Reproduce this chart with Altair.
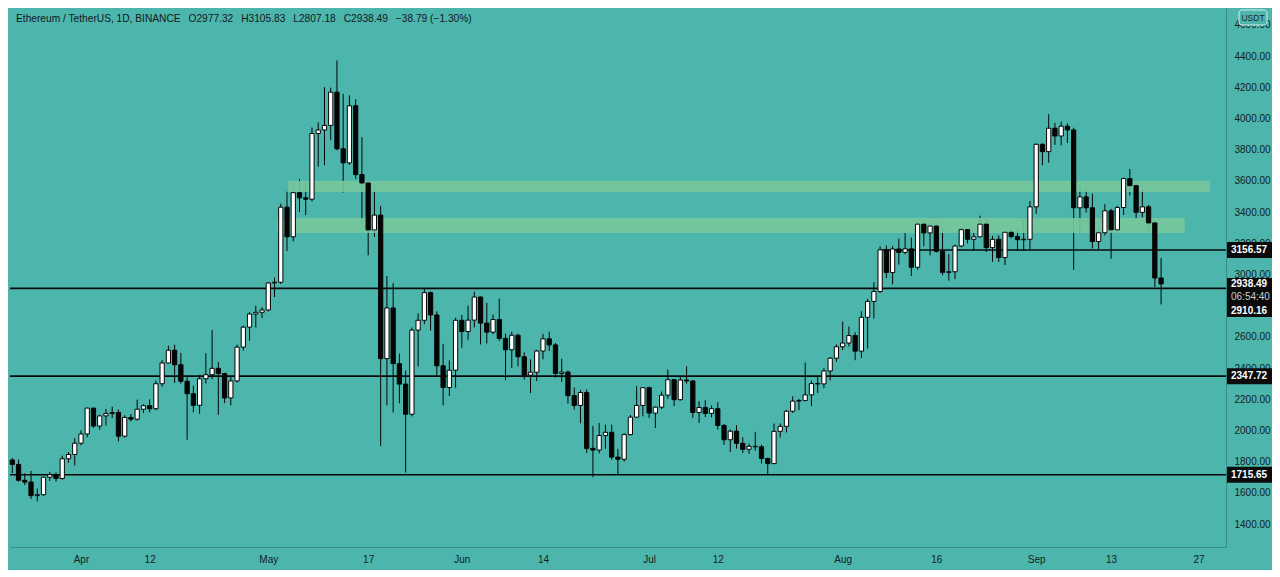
import altair as alt
import pandas as pd

# ---------------- data (ETH/USDT daily, Binance) ----------------
dates = pd.date_range("2021-03-21", "2021-09-21", freq="D")

opens = [
    1810, 1782, 1680, 1669, 1582, 1588, 1700, 1716, 1692, 1818, 1846,
    1918, 1977, 2143, 2028, 2093, 2108, 2115, 1963, 2083, 2072, 2136, 2158, 2139, 2299, 2432,
    2514, 2421, 2315, 2235, 2161, 2331, 2357, 2398, 2364, 2208, 2317, 2534, 2662, 2746, 2757,
    2772, 2945, 2950, 3431, 3241, 3524, 3491, 3482, 3903, 3926, 3955, 4168, 3805, 3715, 4081,
    3640, 3586, 3285, 3380, 2460, 2785, 2428, 2297, 2104, 2643, 2706, 2883, 2740, 2414, 2275, 2386,
    2706, 2634, 2707, 2855, 2688, 2630, 2711, 2590, 2517, 2610, 2472, 2354, 2373, 2509, 2587,
    2548, 2365, 2374, 2223, 2160, 2243, 1885, 1874, 1967, 1988, 1829, 1815, 1973, 2085, 2160,
    2274, 2111, 2149, 2226, 2325, 2197, 2323, 2317, 2115, 2147, 2109, 2139, 2032, 1940, 1995,
    1917, 1879, 1898, 1895, 1820, 1787, 1994, 2026, 2123, 2188, 2192, 2228, 2300, 2298, 2381, 2463,
    2536, 2560, 2608, 2508, 2725, 2827, 2890, 3158, 3012, 3163, 3141, 3164, 3046, 3322, 3266,
    3310, 3148, 3013, 3017, 3182, 3287, 3225, 3241, 3322, 3172, 3225, 3108, 3270, 3243, 3222, 3225,
    3433, 3834, 3787, 3937, 3887, 3950, 3926, 3427, 3497, 3427, 3211, 3267, 3408, 3286, 3429,
    3614, 3569, 3398, 3433, 3330, 2977.32,
]
highs = [
    1823, 1813, 1725, 1740, 1628, 1702, 1734, 1731, 1838, 1861, 1950,
    2000, 2146, 2145, 2100, 2138, 2152, 2134, 2097, 2105, 2197, 2168, 2199, 2320, 2450, 2543,
    2549, 2497, 2342, 2287, 2355, 2495, 2644, 2439, 2369, 2350, 2550, 2672, 2758, 2799, 2790,
    2950, 2980, 3453, 3530, 3540, 3611, 3587, 3942, 3976, 4200, 4197, 4372, 4157, 4148, 4123,
    3880, 3594, 3563, 3438, 2990, 2945, 2492, 2383, 2660, 2750, 2913, 2890, 2763, 2555, 2449, 2722,
    2740, 2800, 2890, 2858, 2817, 2743, 2845, 2620, 2632, 2620, 2500, 2455, 2517, 2619, 2633,
    2560, 2459, 2384, 2276, 2259, 2262, 2029, 2047, 2036, 2037, 1882, 1981, 2099, 2283, 2276,
    2280, 2153, 2249, 2390, 2326, 2347, 2410, 2320, 2187, 2194, 2160, 2181, 2040, 2005, 2033,
    1956, 1915, 1991, 1908, 1825, 2044, 2045, 2130, 2219, 2201, 2435, 2319, 2344, 2399, 2469, 2551,
    2698, 2666, 2629, 2764, 2843, 2950, 3180, 3185, 3183, 3230, 3270, 3236, 3330, 3330, 3330,
    3332, 3292, 3130, 3190, 3300, 3291, 3270, 3376, 3360, 3247, 3250, 3280, 3290, 3290, 3350, 3470,
    3840, 3840, 4027, 3971, 3979, 3969, 3940, 3560, 3560, 3518, 3290, 3450, 3420, 3440, 3620,
    3676, 3584, 3544, 3445, 3340, 3105.83,
]
lows = [
    1726, 1672, 1650, 1560, 1546, 1581, 1676, 1672, 1684, 1793, 1775,
    1904, 1955, 2016, 2005, 2031, 2080, 1930, 1954, 2057, 2062, 2112, 2116, 2130, 2280, 2430,
    2305, 2300, 1940, 2116, 2106, 2300, 2328, 2100, 2175, 2160, 2306, 2512, 2575, 2660, 2720,
    2763, 2855, 2939, 3150, 3212, 3400, 3380, 3468, 3690, 3700, 3860, 3796, 3525, 3702, 3612,
    3322, 3122, 3240, 1900, 2160, 2115, 2174, 1730, 2090, 2410, 2681, 2640, 2345, 2160, 2220, 2273,
    2530, 2581, 2660, 2551, 2557, 2616, 2575, 2322, 2400, 2410, 2326, 2240, 2316, 2456, 2510,
    2338, 2311, 2172, 2133, 2046, 1856, 1700, 1853, 1883, 1812, 1719, 1800, 1968, 2083, 2090,
    2080, 2015, 2136, 2203, 2156, 2191, 2300, 2080, 2048, 2086, 2083, 2006, 1908, 1862, 1883,
    1855, 1850, 1870, 1788, 1718, 1786, 1954, 1987, 2112, 2130, 2187, 2156, 2240, 2271, 2320, 2440,
    2515, 2538, 2450, 2465, 2525, 2717, 2880, 2977, 2936, 3063, 3129, 2990, 3030, 3180, 3122,
    3140, 2995, 2960, 2970, 3174, 3199, 3150, 3237, 3144, 3081, 3080, 3060, 3230, 3150, 3150, 3160,
    3388, 3700, 3717, 3830, 3827, 3842, 3030, 3267, 3397, 3166, 3160, 3250, 3100, 3265, 3381,
    3506, 3353, 3365, 3280, 2920, 2807.18,
]
closes = [
    1782, 1680, 1669, 1582, 1588, 1700, 1716, 1692, 1818, 1846, 1918,
    1977, 2143, 2028, 2093, 2108, 2115, 1963, 2083, 2072, 2136, 2158, 2139, 2299, 2432, 2514,
    2421, 2315, 2235, 2161, 2331, 2357, 2398, 2364, 2208, 2317, 2534, 2662, 2746, 2757, 2772,
    2945, 2950, 3431, 3241, 3524, 3491, 3482, 3903, 3926, 3955, 4168, 3805, 3715, 4081, 3640,
    3586, 3285, 3380, 2460, 2785, 2428, 2297, 2104, 2643, 2706, 2883, 2740, 2414, 2275, 2386, 2706,
    2634, 2707, 2855, 2688, 2630, 2711, 2590, 2517, 2610, 2472, 2354, 2373, 2509, 2587, 2548,
    2365, 2374, 2223, 2160, 2243, 1885, 1874, 1967, 1988, 1829, 1815, 1973, 2085, 2160, 2274,
    2111, 2149, 2226, 2325, 2197, 2323, 2317, 2115, 2147, 2109, 2139, 2032, 1940, 1995, 1917,
    1879, 1898, 1895, 1820, 1787, 1994, 2026, 2123, 2188, 2192, 2228, 2300, 2298, 2381, 2463, 2536,
    2560, 2608, 2508, 2725, 2827, 2890, 3158, 3012, 3163, 3141, 3164, 3046, 3322, 3266, 3310,
    3148, 3013, 3017, 3182, 3287, 3225, 3241, 3322, 3172, 3225, 3108, 3270, 3243, 3222, 3225, 3433,
    3834, 3787, 3937, 3887, 3950, 3926, 3427, 3497, 3427, 3211, 3267, 3408, 3286, 3429, 3614,
    3569, 3398, 3433, 3330, 2977.28, 2938.49,
]

# axis tick labels (TradingView style)
tick_dates = ["2021-04-01", "2021-04-12", "2021-05-01", "2021-05-17", "2021-06-01", "2021-06-14",
              "2021-07-01", "2021-07-12", "2021-08-01", "2021-08-16", "2021-09-01", "2021-09-13",
              "2021-09-27"]
tick_labels = ["Apr", "12", "May", "17", "Jun", "14", "Jul", "12", "Aug", "16", "Sep", "13", "27"]
price_ticks = list(range(1400, 4800, 200))

# horizontal support / resistance levels
level_prices = [3156.57, 2910.16, 2347.72, 1715.65]
level_from = ["2021-08-07", None, None, None]

# supply zones (price bands)
zone_low = [3529, 3265]
zone_high = [3600, 3362]
zone_from_day = [44.2, 42.4]
zone_to_day = [191.8, 187.8]

# right-edge price tags
tag_prices = [3156.57, 2938.49, 2347.72, 1715.65]
tag_texts = ["3156.57", "2938.49", "2347.72", "1715.65"]
tag_up_px = [8, 6, 8, 8]
tag_down_px = [8, 33, 8, 8]
timer_text = "06:54:40"
second_tag_text = "2910.16"

symbol = "Ethereum / TetherUS, 1D, BINANCE"

# ---------------- layout ----------------
BG = "#4cb6ac"
TXT = "#14201f"
PLOT_W, PLOT_H = 1216, 539
Y_MIN, Y_MAX = 1252.6, 4707.7
X_MIN, X_MAX = -0.37, 194.4
PPU = PLOT_H / (Y_MAX - Y_MIN)

start = dates[0]
df = pd.DataFrame({"date": dates, "open": opens, "high": highs, "low": lows, "close": closes})
df["day"] = (df["date"] - start).dt.days

tick_days = [int((pd.Timestamp(d) - start).days) for d in tick_dates]
label_expr = ""
for d, t in zip(tick_days, tick_labels):
    label_expr += f"datum.value == {d} ? '{t}' : "
label_expr += "''"

xs = alt.Scale(domain=[X_MIN, X_MAX], nice=False, zero=False)
ys = alt.Scale(domain=[Y_MIN, Y_MAX], nice=False, zero=False)

x_axis = alt.Axis(values=tick_days, labelExpr=label_expr, title=None, grid=False, ticks=False,
                  domainColor="#3b8a83", labelPadding=7, labelFontSize=10, labelColor=TXT,
                  labelFont="Liberation Sans", labelFlush=False, labelOverlap=False)
y_axis = alt.Axis(values=price_ticks, format=".2f", orient="right", title=None, grid=False,
                  ticks=False, domainColor="#3b8a83", labelPadding=8, labelFontSize=10,
                  labelColor=TXT, labelFont="Liberation Sans", labelFlush=False,
                  labelOverlap=False, labelSeparation=0)


def X(field):
    return alt.X(field, scale=xs, axis=x_axis)


def Y(field):
    return alt.Y(field, scale=ys, axis=y_axis)


base = alt.Chart(df)

wicks = base.mark_rule(color="#050505", strokeWidth=1).encode(
    x=X("day:Q"),
    y=Y("low:Q"),
    y2="high:Q",
)

bodies = base.transform_calculate(
    x0="datum.day - 0.34", x1="datum.day + 0.34"
).mark_rect(stroke="#050505", strokeWidth=1).encode(
    x=X("x0:Q"),
    x2="x1:Q",
    y=Y("open:Q"),
    y2="close:Q",
    fill=alt.condition("datum.close >= datum.open", alt.value("#ffffff"), alt.value("#050505")),
)

zones_df = pd.DataFrame({"x0": zone_from_day, "x1": zone_to_day, "p0": zone_low, "p1": zone_high})
zones = alt.Chart(zones_df).mark_rect(fill="#78c79c", opacity=0.9).encode(
    x=X("x0:Q"), x2="x1:Q",
    y=Y("p0:Q"), y2="p1:Q",
)

lv_start = [float((pd.Timestamp(d) - start).days) if d else X_MIN for d in level_from]
levels_df = pd.DataFrame({"price": level_prices, "x0": lv_start, "x1": [X_MAX] * len(level_prices)})
levels = alt.Chart(levels_df).mark_rule(color="#0a0a0a", strokeWidth=1.6).encode(
    x=X("x0:Q"), x2="x1:Q",
    y=Y("price:Q"),
)

tags_df = pd.DataFrame({"price": tag_prices, "text": tag_texts, "up": tag_up_px, "down": tag_down_px})
tag_boxes = alt.Chart(tags_df).transform_calculate(
    top=f"datum.price + datum.up / {PPU}", bot=f"datum.price - datum.down / {PPU}"
).mark_rect(fill="#0b0b0b", clip=False).encode(
    x=alt.value(PLOT_W + 1), x2=alt.value(PLOT_W + 46),
    y=Y("top:Q"), y2="bot:Q",
)
tag_text = alt.Chart(tags_df).mark_text(
    color="#ffffff", fontWeight="bold", fontSize=10, font="Liberation Sans",
    align="left", baseline="middle", clip=False,
).encode(x=alt.value(PLOT_W + 5), y=Y("price:Q"), text="text:N")

extra_df = pd.DataFrame({"price": [tag_prices[1]], "timer": [timer_text], "second": [second_tag_text]})
timer = alt.Chart(extra_df).mark_text(
    color="#c9cfcf", fontSize=10, font="Liberation Sans", align="left", baseline="middle", dy=13,
).encode(x=alt.value(PLOT_W + 5), y=Y("price:Q"), text="timer:N")
second = alt.Chart(extra_df).mark_text(
    color="#ffffff", fontWeight="bold", fontSize=10, font="Liberation Sans", align="left",
    baseline="middle", dy=27,
).encode(x=alt.value(PLOT_W + 5), y=Y("price:Q"), text="second:N")

last = df.iloc[-1]
prev_close = df.iloc[-2]["close"]
chg = last["close"] - prev_close
pct = chg / prev_close * 100
sp = "\u2002\u00a0"
header = (f"{symbol}{sp}O{last['open']:.2f}{sp}H{last['high']:.2f}{sp}L{last['low']:.2f}"
          f"{sp}C{last['close']:.2f}{sp}{chg:.2f} ({pct:.2f}%)").replace("-", "\u2212")
head_df = pd.DataFrame({"t": [header]})
head = alt.Chart(head_df).mark_text(
    color="#131722", fontSize=10.2, font="Liberation Sans", align="left", baseline="middle",
).encode(x=alt.value(6), y=alt.value(11), text="t:N")

btn_df = pd.DataFrame({"t": ["USDT"]})
btn = alt.Chart(btn_df).mark_rect(
    fill=BG, stroke="#d6ece9", strokeWidth=1, cornerRadius=3, clip=False,
).encode(x=alt.value(PLOT_W + 13), x2=alt.value(PLOT_W + 41), y=alt.value(2), y2=alt.value(17))
btn_t = alt.Chart(btn_df).mark_text(
    color="#1b2a29", fontSize=8.5, font="Liberation Sans", align="center", baseline="middle",
).encode(x=alt.value(PLOT_W + 27), y=alt.value(10), text="t:N")

chart = alt.layer(
    wicks, zones, levels, bodies, tag_boxes, tag_text, timer, second, head, btn, btn_t
).properties(
    width=PLOT_W, height=PLOT_H,
    padding={"left": 2, "top": 0, "right": 46, "bottom": 23},
    autosize=alt.AutoSizeParams(type="none"),
).configure(background=BG).configure_view(stroke=None).configure_axis(labelOverlap=False)

chart.save("out.html", embed_options={"renderer": "svg", "actions": False})
